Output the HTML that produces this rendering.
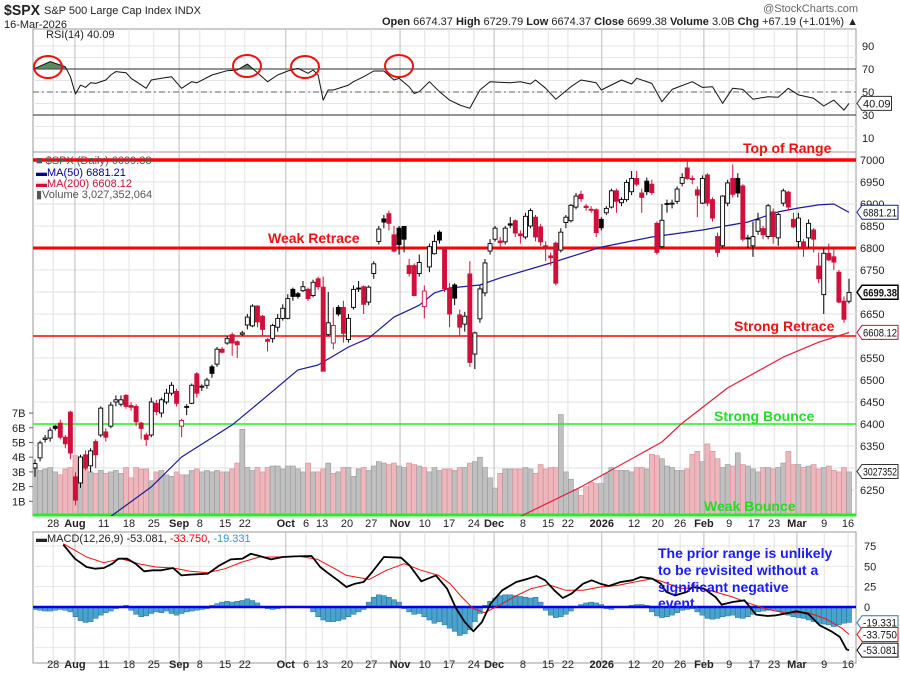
<!DOCTYPE html>
<html><head><meta charset="utf-8"><style>
body{margin:0;background:#fff}
svg{display:block;font-family:"Liberation Sans",sans-serif}
</style></head><body>
<svg id="c" width="900" height="673" viewBox="0 0 900 673">
<rect x="0" y="0" width="900" height="673" fill="#fff"/>
<g id="grid"></g>
<g id="vol"></g>
<g id="lines"></g>
<g id="candles"></g>
<g id="overlay"></g>
<g id="txt" font-size="11" fill="#222">
 <text x="4" y="15" font-size="15" font-weight="bold" textLength="36" lengthAdjust="spacingAndGlyphs">$SPX</text>
 <text x="44" y="14" font-size="11">S&amp;P 500 Large Cap Index  INDX</text>
 <text x="4" y="28">16-Mar-2026</text>
 <text x="858" y="12" text-anchor="end" fill="#666">@StockCharts.com</text>
 <text x="858" y="25" text-anchor="end"><tspan font-weight="bold">Open</tspan> 6674.37  <tspan font-weight="bold">High</tspan> 6729.79  <tspan font-weight="bold">Low</tspan> 6674.37  <tspan font-weight="bold">Close</tspan> 6699.38  <tspan font-weight="bold">Volume</tspan> 3.0B  <tspan font-weight="bold">Chg</tspan> +67.19 (+1.01%) ▲</text>
 <text x="46" y="38">RSI(14) 40.09</text>
 <text x="36" y="164" fill="#555">■ $SPX (Daily) 6699.38</text>
 <text x="36" y="176" fill="#00008b">▬MA(50) 6881.21</text>
 <text x="36" y="187" fill="#d0103a">▬MA(200) 6608.12</text>
 <text x="36" y="198" fill="#555">▮Volume 3,027,352,064</text>
 <text x="36" y="542">▬MACD(12,26,9) -53.081, <tspan fill="#e00">-33.750</tspan>, <tspan fill="#3399cc">-19.331</tspan></text>
 <text x="743" y="153" font-size="14" font-weight="bold" fill="#ee1111">Top of Range</text>
 <text x="268" y="243" font-size="14" font-weight="bold" fill="#ee1111">Weak Retrace</text>
 <text x="734" y="331" font-size="14" font-weight="bold" fill="#ee1111">Strong Retrace</text>
 <text x="714" y="421" font-size="14" font-weight="bold" fill="#22dd22">Strong Bounce</text>
 <text x="704" y="511" font-size="14" font-weight="bold" fill="#22dd22">Weak Bounce</text>
 <g font-size="14" font-weight="bold" fill="#1a1aff">
  <text x="658" y="558">The prior range is unlikely</text>
  <text x="658" y="575">to be revisited without a</text>
  <text x="658" y="592">significant negative</text>
  <text x="658" y="608">event.</text>
 </g>
</g>
</svg>
<script>
const opens=[6300,6323,6365,6368,6395,6402,6370,6427,6280,6266,6330,6305,6360,6375,6382,6395,6450,6445,6465,6442,6440,6402,6375,6375,6447,6425,6450,6470,6474,6395,6438,6447,6514,6484,6488,6530,6536,6570,6584,6603,6587,6604,6625,6623,6668,6645,6592,6594,6620,6640,6640,6706,6696,6703,6706,6692,6730,6711,6603,6584,6665,6665,6592,6665,6709,6712,6677,6742,6815,6866,6878,6830,6845,6849,6760,6760,6742,6667,6757,6787,6836,6799,6708,6716,6648,6627,6741,6559,6639,6698,6793,6820,6816,6814,6855,6862,6832,6825,6850,6870,6848,6805,6782,6811,6795,6858,6862,6893,6922,6895,6888,6887,6865,6880,6893,6930,6903,6910,6928,6958,6925,6952,6945,6856,6803,6900,6900,6906,6947,6982,6958,6932,6902,6966,6910,6826,6805,6902,6958,6958,6941,6823,6805,6838,6844,6826,6882,6823,6902,6927,6865,6815,6814,6823,6841,6759,6694,6788,6780,6745,6679,6679];
const closes=[6310,6357,6368,6386,6390,6370,6355,6334,6227,6325,6300,6339,6330,6436,6370,6443,6455,6455,6440,6438,6405,6390,6365,6450,6428,6455,6470,6488,6447,6408,6440,6488,6470,6486,6500,6515,6570,6563,6594,6584,6580,6607,6643,6668,6632,6615,6588,6624,6640,6663,6685,6690,6690,6712,6685,6722,6712,6520,6630,6624,6650,6606,6640,6706,6707,6672,6711,6764,6843,6859,6856,6793,6808,6820,6742,6692,6767,6702,6803,6815,6818,6708,6650,6686,6620,6645,6540,6607,6707,6766,6810,6845,6812,6845,6852,6834,6828,6872,6885,6825,6814,6800,6778,6720,6836,6870,6897,6918,6912,6892,6886,6835,6846,6890,6930,6906,6910,6949,6958,6945,6915,6928,6926,6790,6863,6901,6902,6934,6960,6958,6956,6920,6958,6902,6868,6790,6918,6948,6922,6925,6820,6822,6826,6864,6830,6896,6826,6876,6930,6893,6848,6868,6802,6856,6820,6730,6788,6773,6768,6677,6638,6699];
const highs=[6320,6362,6375,6392,6398,6410,6375,6430,6290,6330,6340,6345,6365,6440,6390,6450,6465,6465,6468,6450,6445,6405,6380,6460,6455,6460,6480,6495,6480,6412,6445,6492,6518,6490,6505,6535,6575,6575,6600,6608,6590,6612,6650,6672,6670,6648,6595,6628,6650,6672,6695,6710,6700,6725,6710,6728,6735,6735,6700,6665,6670,6680,6650,6715,6725,6715,6715,6770,6850,6875,6885,6850,6850,6850,6775,6765,6785,6715,6810,6830,6840,6800,6720,6720,6660,6655,6770,6610,6715,6775,6820,6850,6825,6850,6870,6865,6840,6880,6890,6875,6855,6815,6790,6815,6845,6875,6900,6925,6930,6900,6895,6890,6870,6895,6935,6935,6915,6955,6975,6975,6935,6960,6955,6860,6900,6910,6910,6940,6970,7000,6965,6940,6965,6970,6915,6835,6920,6955,6990,6970,6945,6830,6860,6880,6850,6900,6890,6880,6935,6930,6880,6880,6820,6865,6845,6790,6800,6810,6800,6750,6690,6730];
const lows=[6280,6315,6358,6360,6385,6365,6345,6320,6215,6255,6295,6290,6300,6370,6360,6390,6440,6440,6435,6430,6395,6365,6350,6370,6420,6415,6445,6465,6440,6370,6420,6445,6460,6475,6480,6505,6530,6560,6580,6555,6550,6600,6615,6620,6620,6600,6565,6585,6610,6635,6638,6680,6685,6700,6680,6688,6705,6520,6600,6570,6645,6585,6585,6660,6700,6650,6670,6730,6808,6845,6840,6790,6785,6790,6735,6690,6735,6640,6745,6785,6810,6700,6620,6670,6600,6610,6530,6525,6630,6690,6785,6815,6800,6808,6845,6825,6810,6820,6845,6815,6805,6770,6760,6715,6790,6845,6858,6888,6905,6885,6880,6825,6840,6875,6890,6880,6895,6905,6920,6940,6880,6920,6920,6785,6800,6880,6890,6900,6940,6955,6945,6870,6900,6895,6860,6780,6800,6895,6915,6915,6815,6800,6780,6830,6820,6820,6810,6805,6895,6885,6845,6800,6780,6800,6790,6720,6650,6770,6750,6675,6630,6674];
const volumes=[3.3,3.1,3.2,3.3,3.0,2.8,3.2,3.3,4.1,3.4,3.2,3.0,2.9,3.1,2.9,3.0,3.1,2.9,3.3,2.6,3.3,3.2,3.2,2.4,3.0,3.1,2.8,2.7,3.0,2.8,2.8,3.1,3.2,3.0,3.1,3.0,3.1,3.0,3.0,3.2,3.6,5.9,3.3,3.1,3.3,3.0,3.3,3.4,3.4,3.2,3.4,3.4,3.2,3.0,3.6,3.0,3.0,3.2,3.6,2.9,3.0,3.3,3.3,2.7,3.2,3.3,3.1,3.4,3.7,3.6,3.5,3.6,3.4,3.3,3.6,3.5,3.4,3.3,3.0,3.3,3.1,3.2,3.2,3.1,3.3,3.3,3.6,3.7,4.0,3.3,2.6,1.9,2.9,3.2,3.2,3.2,3.2,3.3,3.2,2.9,3.5,3.2,3.3,3.3,6.9,3.0,2.5,1.8,1.4,2.0,2.3,2.2,2.2,2.9,3.3,3.1,3.1,3.1,3.0,3.3,3.3,3.2,4.2,4.1,3.9,3.4,3.3,3.1,3.1,3.2,4.2,4.4,3.7,4.9,4.4,3.9,3.3,3.5,3.4,4.3,3.5,3.4,3.2,3.0,3.3,3.3,3.2,3.3,3.6,4.4,3.5,3.5,3.3,3.4,3.5,3.2,3.3,3.4,3.1,3.0,3.3,3.0];
const ma50Idx=[15,23,29,39,45,52,56,62,66,71,76,79,82,88,92,102,112,122,132,141,147,151,155,158,161];
const ma50Val=[6190,6257,6325,6398,6455,6523,6534,6575,6595,6643,6670,6698,6709,6716,6732,6766,6802,6825,6841,6859,6882,6891,6898,6900,6881];
const ma200Idx=[96,108,124,128,137,148,155,161];
const ma200Val=[6190,6257,6359,6402,6482,6552,6586,6608];
const rsiIdx=[0,3,6,7,8,9,10,11,12,14,15,16,18,19,22,23,25,27,29,31,32,35,38,40,42,44,46,48,50,52,54,55,56,57,58,59,62,63,65,67,69,71,72,74,75,76,78,80,82,84,86,88,90,94,96,98,99,101,103,106,108,111,112,116,118,119,122,124,126,130,132,134,136,138,140,142,145,147,149,151,154,156,158,160,161];
const rsiVal=[70.6,76.4,72,63.3,48.3,56,54,58,57.5,60.4,64.8,67.7,66.8,61.9,53.2,60.4,61.9,63.3,53.2,59,58,64.8,68.5,69.1,74.3,66.8,59,64.8,68.3,70.6,66.3,69.1,64.8,43,51.7,51.7,56,59,63.3,68.3,68.3,60.4,61.9,54.6,48.7,50.3,59,50.3,43,38.7,35.8,51.7,59,58,59,57,60.4,53.2,43.7,54.6,60.4,58,51.7,60.4,57,61.9,57.5,41.6,52.3,59,54,54.6,40.2,53.2,52.3,43.7,45.9,45.4,53.2,47.5,44.5,37.8,43,34.3,40.1];
const macdIdx=[5.6,7.9,10.2,11.9,13.6,15.3,16.5,18.2,19.9,21.6,23.3,25,27.3,29,30.7,34.2,36.5,38.7,41,42.7,44.4,46.7,49,51.3,54.7,56.4,58.1,59.9,61.6,63.3,65,66.7,69,72.4,74.1,76.4,79.3,81.5,83.3,85,86.7,88.4,90.1,92.4,95.2,97.5,99.2,100.9,102.7,104.4,106.1,108.4,110.1,111.8,113.5,115.8,118.1,119.8,122.1,123.8,124.9,126.6,128.9,130,132.3,134.6,135.8,138,140.3,142.6,144.9,146.6,148.3,150.6,152.9,155.2,157.5,159.2,160.5,161];
const macdVal=[76.6,59.4,49.2,47.1,48,53.3,59.4,59.4,53.3,43.9,45.1,45.1,48,38.9,39.8,41,51.2,58.6,59.4,65.6,62.7,58.6,61.5,62.3,62.7,49.2,41,32.8,24.6,28.7,30.7,43,61.5,60.7,51.2,31.6,38.9,22.5,-2,-18.4,-29.9,-18.4,4.1,20.5,30.7,34.8,38.1,32.8,20.5,11.1,16.4,28.7,32.8,28.7,25.8,30.7,32.8,36.9,34.8,28.7,18.4,14.3,18.4,24.6,22.5,12.3,2.9,6.1,8.2,-9.4,-11.1,-10.2,-8.2,-5.3,-8.2,-22.5,-29.9,-36.9,-52,-53.081];
const sigIdx=[5.6,7.9,10.2,13.6,17,20.5,23.9,27.3,30.7,34.2,37.6,41,44.4,47.9,52.4,55.9,59.3,61.6,66.1,69.5,73,76.4,79.8,82.1,84.4,86.7,88.9,91.2,94.7,98.1,101.5,105,108.4,111.8,115.2,118.6,122.1,124.3,127.8,131.2,134.6,138,141.5,144.9,148.3,152.9,156.3,159.7,161];
const sigVal=[77.9,69.7,61.5,54.5,59.4,53.3,49.2,48,43.9,42.2,47.1,55.3,61.5,61.5,62.3,58.6,47.1,38.9,34,45.1,53.3,45.1,38.9,28.7,12.3,-2,-7,0,12.3,22.5,27.5,20.5,20.5,24.6,26.6,30.7,34.8,30.7,22.5,24.6,18.4,12.3,4.1,-2.9,-7,-7,-14.3,-26.6,-33.75];
const histVal=[-3,-4,-5,-5,-4,-3,-4,-6,-12,-17,-19,-18,-14,-10,-7,-5,-2,1,2,-4,-9,-12,-11,-8,-6,-7,-5,-8,-10,-8,-6,-5,-4,-3,-2,2,4,6,7,6,7,8,10,8,5,1,-2,-3,-2,-1,0,1,1,0,-1,-6,-12,-16,-18,-18,-17,-15,-12,-9,-6,-3,6,12,15,14,12,9,6,-2,-6,-9,-8,-12,-16,-20,-18,-22,-26,-30,-35,-33,-28,-18,-8,2,7,11,14,15,15,14,13,12,11,12,6,-4,-10,-13,-12,-9,-5,-1,3,5,6,5,3,-2,-3,-1,0,0,2,3,3,2,-6,-11,-13,-12,-10,-7,-4,-3,-2,-6,-10,-14,-15,-14,-12,-11,-10,-13,-14,-12,-9,-6,-5,-4,-3,-5,-8,-10,-12,-13,-14,-16,-18,-20,-21,-22,-24,-22,-20,-19];
const priceTicks=[7000,6950,6900,6850,6800,6750,6700,6650,6600,6550,6500,6450,6400,6350,6300,6250];
const volTicks=[1,2,3,4,5,6,7];
const rsiTicks=[90,70,50,30,10];
const macdTicks=[75,50,25,0];
const dateLabels=["28","Aug","11","18","25","Sep","8","15","22","Oct","6","13","20","27","Nov","10","17","24","Dec","8","15","22","2026","12","20","26","Feb","9","17","23","Mar","9","16"];
const dateIdx=[3.6,7.9,13.6,18.6,23.5,28.5,32.6,37.6,41.5,49.6,53.6,56.8,61.7,66.5,72.2,77.1,81.9,86.8,90.8,96.5,101.5,105.4,112.1,118.5,123.2,127.6,132.3,137.3,142.2,146.2,150.7,156.1,160.8];
const dateBold=[0,1,0,0,0,1,0,0,0,1,0,0,0,0,1,0,0,0,1,0,0,0,1,0,0,0,1,0,0,0,1,0,0];

const NS="http://www.w3.org/2000/svg";
const L=33,R=856;
const bx=i=>35+i*5.056;
const py=p=>160+(7000-p)*0.44;
const vy=v=>516-v*14.7;
const ry=v=>149.5-v*1.15;
const my=v=>607-v*0.813;
function mk(tag,at,parent){const e=document.createElementNS(NS,tag);for(const k in at)e.setAttribute(k,at[k]);parent.appendChild(e);return e;}
const grid=document.getElementById('grid'),volG=document.getElementById('vol'),linesG=document.getElementById('lines'),candG=document.getElementById('candles'),ov=document.getElementById('overlay');

const defs=mk('defs',{},document.getElementById('c'));
const cpM=mk('clipPath',{id:'cm'},defs);mk('rect',{x:L,y:153,width:R-L,height:363},cpM);
const cpR=mk('clipPath',{id:'cr'},defs);mk('rect',{x:L,y:29,width:R-L,height:123},cpR);
const cpA=mk('clipPath',{id:'ca'},defs);mk('rect',{x:L,y:532,width:R-L,height:131},cpA);
const cpO=mk('clipPath',{id:'co'},defs);mk('rect',{x:L,y:29,width:R-L,height:ry(70)-29},cpO);

[[29,152],[152,516],[532,663]].forEach((p,k)=>{
 const r=mk('rect',{x:L,y:p[0],width:R-L,height:p[1]-p[0],fill:'none',stroke:'#999','stroke-width':1},grid);
 
 
});
priceTicks.forEach(p=>{
 mk('line',{x1:L,x2:R,y1:py(p),y2:py(p),stroke:'#e2e2e2'},grid);
 const t=mk('text',{x:860,y:py(p)+4,'font-size':11,fill:'#222'},grid);t.textContent=p;
 
 
});
volTicks.forEach(v=>{
 const t=mk('text',{x:12,y:vy(v)+4,'font-size':11,fill:'#222'},grid);t.textContent=v+'B';
 
 
 mk('line',{x1:29,x2:33,y1:vy(v),y2:vy(v),stroke:'#666'},grid);
});
for(let v=10;v<=90;v+=10){mk('line',{x1:L,x2:R,y1:ry(v),y2:ry(v),stroke:'#e6e6e6'},grid);}
rsiTicks.forEach(v=>{
 const t=mk('text',{x:862,y:ry(v)+4,'font-size':11,fill:'#222'},grid);t.textContent=v;
 
 
});
[75,50,25,0,-25,-50].forEach(v=>mk('line',{x1:L,x2:R,y1:my(v),y2:my(v),stroke:'#e6e6e6'},grid));
macdTicks.forEach(v=>{
 const t=mk('text',{x:864,y:my(v)+4,'font-size':11,fill:'#222'},grid);t.textContent=v;
 
 
});
dateIdx.forEach((d,k)=>{
 const x=bx(d);
 const col=dateBold[k]?'#bbb':'#e2e2e2';
 [[29,152],[152,516],[532,663]].forEach(p=>mk('line',{x1:x,x2:x,y1:p[0],y2:p[1],stroke:col},grid));
 [527,668].forEach(y=>{
  const t=mk('text',{x:x,y:y,'font-size':11,'text-anchor':'middle',fill:'#222','font-weight':dateBold[k]?'bold':'normal'},grid);
  t.textContent=dateLabels[k];
  
  
 });
});
const vg=mk('g',{'clip-path':'url(#cm)'},volG);
volumes.forEach((v,i)=>{
 const down=i>0&&closes[i]<closes[i-1];
 const r=mk('rect',{x:bx(i)-2.5,y:vy(v),width:5,height:516-vy(v),fill:down?'#ecb8bd':'#c0c0c0',stroke:down?'#d88a92':'#999','stroke-width':0.6},vg);
 
 
});
const refs=[[7000,'#ff0000',3.5,'top-of-range-line'],[6800,'#ff0000',3,'weak-retrace-line'],[6600,'#ff0000',1.5,'strong-retrace-line'],[6400,'#22ee22',1.5,'strong-bounce-line']];
refs.forEach(r=>{
 const l=mk('line',{x1:L,x2:R,y1:py(r[0]),y2:py(r[0]),stroke:r[1],'stroke-width':r[2]},linesG);
 
 
});
const wb=mk('line',{x1:L,x2:R,y1:515,y2:515,stroke:'#22ee22','stroke-width':3},linesG);


function poly(idx,val,yf,stroke,w,parent,clip){
 const pts=idx.map((d,k)=>bx(d).toFixed(1)+','+yf(val[k]).toFixed(1)).join(' ');
 return mk('polyline',{points:pts,fill:'none',stroke:stroke,'stroke-width':w,'clip-path':clip,'stroke-linejoin':'round'},parent);
}
const m50=poly(ma50Idx,ma50Val,py,'#1a1a99',1.2,linesG,'url(#cm)');


const m200=poly(ma200Idx,ma200Val,py,'#e0203a',1.2,linesG,'url(#cm)');


const cg=mk('g',{'clip-path':'url(#cm)'},candG);
opens.forEach((o,i)=>{
 const c=closes[i];
 const red=i>0&&c<closes[i-1];
 const col=red?'#d0103a':'#000';
 const x=bx(i);
 const g=mk('g',{},cg);
 
 
 mk('line',{x1:x,x2:x,y1:py(highs[i]),y2:py(lows[i]),stroke:col,'stroke-width':1},g);
 const top=py(Math.max(o,c)),bot=py(Math.min(o,c));
 const hollow=c>=o;
 mk('rect',{x:x-2,y:top,width:4,height:Math.max(1,bot-top),fill:hollow?'#fff':col,stroke:col,'stroke-width':0.9},g);
});
const rsiPts=rsiIdx.map((d,k)=>bx(d).toFixed(1)+','+ry(rsiVal[k]).toFixed(1));
const area=mk('polygon',{points:bx(rsiIdx[0])+','+ry(0)+' '+rsiPts.join(' ')+' '+bx(rsiIdx[rsiIdx.length-1])+','+ry(0),fill:'#5c8a5c','clip-path':'url(#co)'},linesG);


[[70,'#555',1.2,''],[30,'#555',1.2,''],[50,'#666',1,'6,3,2,3']].forEach(r=>mk('line',{x1:L,x2:R,y1:ry(r[0]),y2:ry(r[0]),stroke:r[1],'stroke-width':r[2],'stroke-dasharray':r[3]},linesG));
const rl=poly(rsiIdx,rsiVal,ry,'#111',1,linesG,'url(#cr)');


const hg=mk('g',{'clip-path':'url(#ca)'},linesG);
histVal.forEach((h,i)=>{
 const y0=my(0),y1=my(h);
 const r=mk('rect',{x:bx(i)-2.5,y:Math.min(y0,y1),width:5,height:Math.abs(y1-y0),fill:'#4aa3cc',stroke:'#2a6f94','stroke-width':0.5},hg);
 
 
});
const z=mk('line',{x1:L,x2:R,y1:my(0),y2:my(0),stroke:'#0000ee','stroke-width':2.5},linesG);


const sl=poly(sigIdx,sigVal,my,'#ee1111',1,linesG,'url(#ca)');


const ml=poly(macdIdx,macdVal,my,'#000',1.8,linesG,'url(#ca)');


[[48,67],[247,66],[305,67],[399,66]].forEach(p=>{
 const e=mk('ellipse',{cx:p[0],cy:p[1],rx:14,ry:11,fill:'none',stroke:'#ee1111','stroke-width':2},ov);
 
 
});
function tag(y,txt,col,bold,name){
 const g=mk('g',{},ov);
 
 
 const w=Math.min(36,txt.length*5.3+3);
 mk('path',{d:`M857,${y} L862,${y-7} L${862+w},${y-7} L${862+w},${y+7} L862,${y+7} Z`,fill:'#fff',stroke:col,'stroke-width':bold?1.5:1},g);
 const t=mk('text',{x:863,y:y+4,'font-size':11,fill:'#111','font-weight':bold?'bold':'normal',textLength:w-2,lengthAdjust:'spacingAndGlyphs'},g);
 t.textContent=txt;
}
tag(ry(40.09),'40.09','#333',false,'rsi-value-tag');
tag(py(6881.21),'6881.21','#1a1a99',false,'ma50-value-tag');
tag(py(6699.38),'6699.38','#000',true,'close-value-tag');
tag(py(6608.12),'6608.12','#d0103a',false,'ma200-value-tag');
tag(vy(3.03),'3027352','#333',false,'volume-value-tag');
tag(my(-19.331),'-19.331','#3377aa',false,'histogram-value-tag');
tag(my(-33.75),'-33.750','#ee1111',false,'signal-value-tag');
tag(my(-53.081),'-53.081','#000',false,'macd-value-tag');
document.getElementById('c').appendChild(document.getElementById('txt'));
</script>
</body></html>
